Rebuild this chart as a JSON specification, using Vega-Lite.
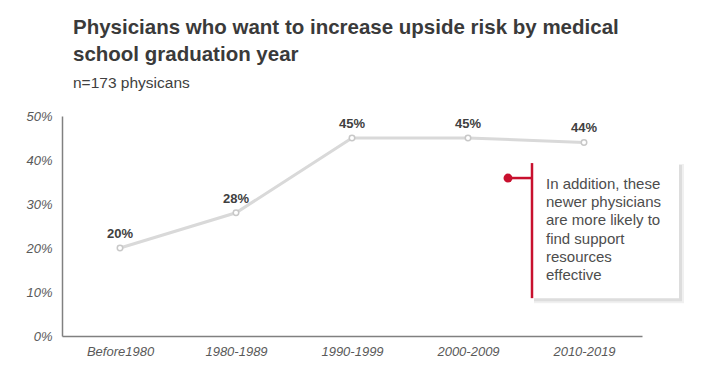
{
  "$schema": "https://vega.github.io/schema/vega-lite/v6.json",
  "width": 580,
  "height": 220,
  "autosize": {"type": "none"},
  "padding": {"left": 62, "top": 116, "right": 67, "bottom": 42},
  "background": "white",
  "title": {
    "text": ["Physicians who want to increase upside risk by medical", "school graduation year"],
    "subtitle": "n=173 physicans",
    "anchor": "start",
    "frame": "group",
    "dx": 11,
    "font": "Liberation Sans",
    "fontSize": 20.5,
    "fontWeight": "bold",
    "color": "#3a3a3a",
    "lineHeight": 27,
    "subtitleFont": "Liberation Sans",
    "subtitleFontSize": 15.5,
    "subtitleColor": "#404040",
    "subtitlePadding": 10,
    "offset": 19
  },
  "config": {"view": {"stroke": null}, "font": "Liberation Sans"},
  "datasets": {
    "main": [
      {"period": "Before1980", "value": 20, "label": "20%"},
      {"period": "1980-1989", "value": 28, "label": "28%"},
      {"period": "1990-1999", "value": 45, "label": "45%"},
      {"period": "2000-2009", "value": 45, "label": "45%"},
      {"period": "2010-2019", "value": 44, "label": "44%"}
    ],
    "box": [
      {"period": "2000-2009", "period2": "2010-2019", "top": 39.3, "bottom": 8.6}
    ],
    "dot": [
      {"period": "2000-2009", "value": 35.9}
    ],
    "note": [
      {"period": "2000-2009", "value": 35.9, "label": "In addition, these\nnewer physicians\nare more likely to\nfind support\nresources\neffective"}
    ]
  },
  "layer": [
    {
      "data": {"name": "main"},
      "mark": {"type": "line", "color": "#d9d9d9", "strokeWidth": 3},
      "encoding": {
        "x": {
          "field": "period", "type": "nominal", "sort": null,
          "scale": {"type": "point", "padding": 0.5},
          "axis": {
            "title": null, "ticks": false, "labelAngle": 0,
            "labelFontStyle": "italic", "labelFontSize": 13, "labelColor": "#595959",
            "labelPadding": 9, "domainColor": "#808080", "domainWidth": 1.5
          }
        },
        "y": {
          "field": "value", "type": "quantitative",
          "scale": {"domain": [0, 50]},
          "axis": {
            "title": null, "ticks": false, "grid": false, "values": [0, 10, 20, 30, 40, 50],
            "labelExpr": "datum.value + '%'",
            "labelFontStyle": "italic", "labelFontSize": 13, "labelColor": "#595959",
            "labelPadding": 10, "domainColor": "#808080", "domainWidth": 1.5
          }
        }
      }
    },
    {
      "data": {"name": "main"},
      "mark": {"type": "point", "filled": true, "fill": "white", "stroke": "#c8c8c8", "strokeWidth": 1.5, "size": 30, "opacity": 1},
      "encoding": {
        "x": {"field": "period", "type": "nominal", "sort": null},
        "y": {"field": "value", "type": "quantitative"}
      }
    },
    {
      "data": {"name": "main"},
      "mark": {"type": "text", "dy": -14, "fontWeight": "bold", "fontSize": 13, "color": "#404040"},
      "encoding": {
        "x": {"field": "period", "type": "nominal", "sort": null},
        "y": {"field": "value", "type": "quantitative"},
        "text": {"field": "label", "type": "nominal"}
      }
    },
    {
      "data": {"name": "box"},
      "mark": {"type": "rect", "color": "#000000", "opacity": 0.06, "xOffset": 66, "x2Offset": 100, "yOffset": 1, "y2Offset": 5},
      "encoding": {
        "x": {"field": "period", "type": "nominal", "sort": null},
        "x2": {"field": "period2"},
        "y": {"field": "top", "type": "quantitative"},
        "y2": {"field": "bottom"}
      }
    },
    {
      "data": {"name": "box"},
      "mark": {"type": "rect", "color": "#000000", "opacity": 0.08, "xOffset": 66, "x2Offset": 98, "yOffset": 2, "y2Offset": 3},
      "encoding": {
        "x": {"field": "period", "type": "nominal", "sort": null},
        "x2": {"field": "period2"},
        "y": {"field": "top", "type": "quantitative"},
        "y2": {"field": "bottom"}
      }
    },
    {
      "data": {"name": "box"},
      "mark": {"type": "rect", "color": "white", "xOffset": 64, "x2Offset": 95},
      "encoding": {
        "x": {"field": "period", "type": "nominal", "sort": null},
        "x2": {"field": "period2"},
        "y": {"field": "top", "type": "quantitative"},
        "y2": {"field": "bottom"}
      }
    },
    {
      "data": {"name": "box"},
      "mark": {"type": "rule", "color": "#c8102e", "strokeWidth": 2.5, "xOffset": 64},
      "encoding": {
        "x": {"field": "period", "type": "nominal", "sort": null},
        "y": {"field": "top", "type": "quantitative"},
        "y2": {"field": "bottom"}
      }
    },
    {
      "data": {"name": "dot"},
      "mark": {"type": "rule", "color": "#c8102e", "strokeWidth": 2.5, "xOffset": 40, "x2Offset": 64},
      "encoding": {
        "x": {"field": "period", "type": "nominal", "sort": null},
        "x2": {"field": "period"},
        "y": {"field": "value", "type": "quantitative"}
      }
    },
    {
      "data": {"name": "dot"},
      "mark": {"type": "point", "filled": true, "color": "#c8102e", "size": 80, "opacity": 1, "xOffset": 40},
      "encoding": {
        "x": {"field": "period", "type": "nominal", "sort": null},
        "y": {"field": "value", "type": "quantitative"}
      }
    },
    {
      "data": {"name": "note"},
      "mark": {"type": "text", "align": "left", "baseline": "top", "lineBreak": "\n", "lineHeight": 18.2, "fontSize": 15, "color": "#4d4d4d", "xOffset": 78, "yOffset": -1},
      "encoding": {
        "x": {"field": "period", "type": "nominal", "sort": null},
        "y": {"field": "value", "type": "quantitative"},
        "text": {"field": "label", "type": "nominal"}
      }
    }
  ]
}
